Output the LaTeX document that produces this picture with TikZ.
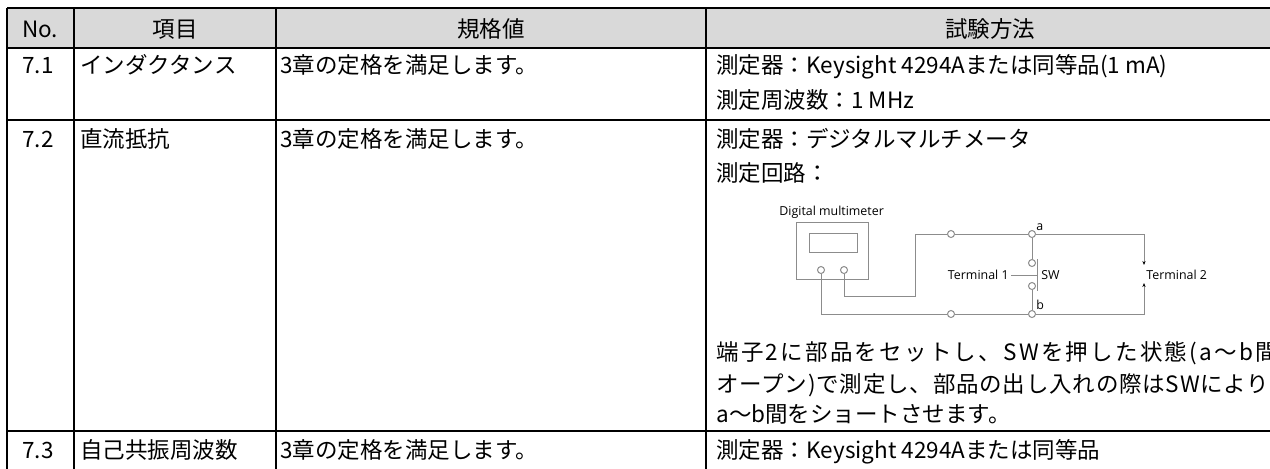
\documentclass[tikz,border=0pt]{standalone}
\usepackage{fontspec}
\usetikzlibrary{arrows.meta}
\newfontfamily\jpfont{Noto Sans CJK JP}
\newfontfamily\figfont{Open Sans}

\begin{document}
\begin{tikzpicture}[x=0.5pt,y=-0.5pt,
    txt/.style={font=\jpfont\fontsize{11.25}{13.5}\selectfont, inner sep=0pt, anchor=base west},
    head/.style={txt, anchor=base},
    rule/.style={black, line width=1pt},
    wire/.style={draw=gray!90, line width=0.5pt},
    pin/.style={circle, draw=gray!90, fill=white, line width=0.5pt, inner sep=0pt, minimum size=3.5pt},
    lbl/.style={font=\figfont\fontsize{6.2}{7}\selectfont, inner sep=1pt},
    tip/.style={-{Stealth[length=2pt,width=1.6pt,black]}}]
    \useasboundingbox (0,0) rectangle (1270,468);
    \clip (0,0) rectangle (1270,468);

    % table grid
    \fill[gray!30] (7,8) rectangle (1282,48);
    \foreach \y in {8,48,120,431}
        \draw[rule] (7,\y) -- (1282,\y);
    \foreach \x in {7,74,276,706,1282}
        \draw[rule] (\x,8) -- (\x,470);

    % header
    \node[head] (hno) at (40,37) {No.};
    \node[head] (hitem) at (175,37) {項目};
    \node[head] (hspec) at (491,37) {規格値};
    \node[head] (htest) at (990,37) {試験方法};

    % 7.1
    \node[head] (no1) at (38,73.5) {7.1};
    \node[txt] (item1) at (80,73.5) {インダクタンス};
    \node[txt] (spec1) at (280,73.5) {3章の定格を満足します。};
    \node[txt] (test1a) at (716,73.5) {測定器：Keysight 4294Aまたは同等品(1 mA)};
    \node[txt] (test1b) at (716,108.5) {測定周波数：1 MHz};

    % 7.2
    \node[head] (no2) at (38,147.5) {7.2};
    \node[txt] (item2) at (80,147.5) {直流抵抗};
    \node[txt] (spec2) at (280,147.5) {3章の定格を満足します。};
    \node[txt] (test2a) at (716,147.5) {測定器：デジタルマルチメータ};
    \node[txt] (test2b) at (716,181.5) {測定回路：};
    \node[txt] (test2c) at (716,360.5) {\addfontfeature{LetterSpace=10}端子2に部品をセットし、SWを押した状態(a～b間};
    \node[txt] (test2d) at (716,392.5) {\addfontfeature{LetterSpace=3.5}オープン)で測定し、部品の出し入れの際はSWにより};
    \node[txt] (test2e) at (716,422.5) {a～b間をショートさせます。};

    % 7.3
    \node[head] (no3) at (38,458.5) {7.3};
    \node[txt] (item3) at (80,458.5) {自己共振周波数};
    \node[txt] (spec3) at (280,458.5) {3章の定格を満足します。};
    \node[txt] (test3a) at (716,458.5) {測定器：Keysight 4294Aまたは同等品};

    % measuring circuit
    \draw[wire] (796,222) rectangle (868,279);
    \draw[wire] (809,233) rectangle (857,252);
    \node[lbl, anchor=west] (dmm) at (777,212) {Digital multimeter};
    \node[pin] (p1) at (821,270) {};
    \node[pin] (p2) at (844,270) {};
    \node[pin] (c1) at (951,234) {};
    \node[pin] (c2) at (951,314) {};
    \node[pin] (a) at (1032,234) {};
    \node[pin] (b) at (1032,314) {};
    \node[pin] (sw1) at (1032,263) {};
    \node[pin] (sw2) at (1032,286) {};
    \coordinate (bend) at (915,296);
    \coordinate (k1) at (1144,265);
    \coordinate (k2) at (1144,283);
    \coordinate (bar1) at (1037,259);
    \coordinate (bar2) at (1037,291);
    \coordinate (barm) at (1037,275);
    \node[lbl, anchor=east] (term1) at (1011,275) {Terminal 1};
    \node[lbl, anchor=west] (swl) at (1039,275) {SW};
    \node[lbl, anchor=west] (la) at (1034,227) {a};
    \node[lbl, anchor=west] (lb) at (1034,305) {b};
    \node[lbl, anchor=west] (term2) at (1144,275) {Terminal 2};

    \draw[wire] (p2) |- (bend) |- (c1) -- (a);
    \draw[wire, tip] (a) -| (k1);
    \draw[wire] (p1) |- (c2) -- (b);
    \draw[wire, tip] (b) -| (k2);
    \draw[wire] (a) -- (sw1);
    \draw[wire] (sw2) -- (b);
    \draw[wire] (bar1) -- (bar2);
    \draw[wire] (term1) -- (barm);
\end{tikzpicture}
\end{document}
